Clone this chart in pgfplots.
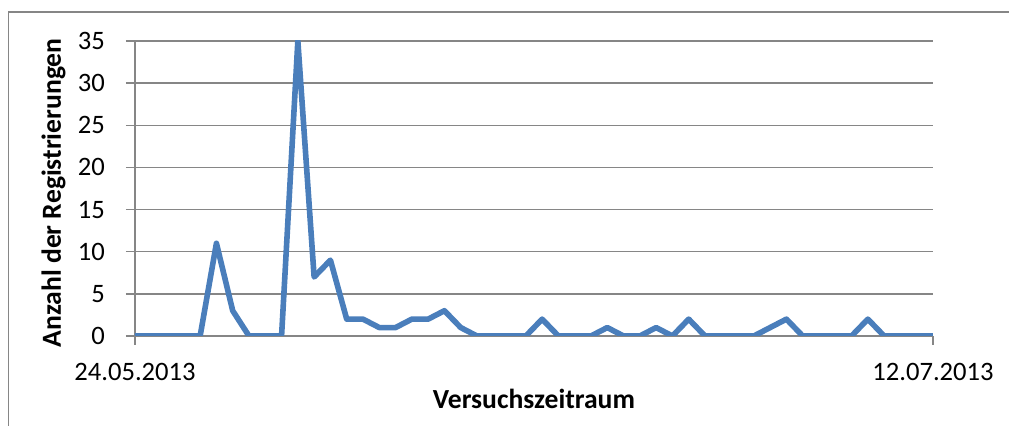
\documentclass[border=0pt]{standalone}
\usepackage{fontspec}
\setmainfont{Carlito}
\usepackage{pgfplots}
\pgfplotsset{compat=1.18}
\definecolor{xlblue}{HTML}{4A7EBB}
\definecolor{xlgray}{HTML}{868686}

% registrations per day, 24.05.2013 (day 0) to 12.07.2013 (day 49)
\pgfplotstableread{
day n
0 0
1 0
2 0
3 0
4 0
5 11
6 3
7 0
8 0
9 0
10 35
11 7
12 9
13 2
14 2
15 1
16 1
17 2
18 2
19 3
20 1
21 0
22 0
23 0
24 0
25 2
26 0
27 0
28 0
29 1
30 0
31 0
32 1
33 0
34 2
35 0
36 0
37 0
38 0
39 1
40 2
41 0
42 0
43 0
44 0
45 2
46 0
47 0
48 0
49 0
}\regdata

\begin{document}
\begin{tikzpicture}
\useasboundingbox (-67.5pt,-45pt) rectangle (437pt,168pt);
\draw[xlgray, line width=0.7pt] (-63.25pt,-80pt) rectangle (470pt,162pt);
\begin{axis}[
  at={(0pt,0pt)}, anchor=origin,
  scale only axis,
  width=399pt, height=147.5pt,
  xmin=0, xmax=49, ymin=0, ymax=35,
  axis x line*=bottom, axis y line*=left,
  axis line style={xlgray, line width=0.75pt, -},
  xtick={0,49}, xticklabels={24.05.2013,12.07.2013},
  ytick={0,5,...,35},
  tick align=outside,
  major tick length=4.5pt,
  tick style={xlgray, line width=0.75pt},
  ymajorgrids=true,
  grid style={xlgray, line width=0.75pt},
  tick label style={font=\fontsize{13.3}{15}\selectfont, black},
  xticklabel style={yshift=-5.5pt},
  yticklabel style={xshift=-7pt},
  /pgf/number format/assume math mode=true,
  xlabel={Versuchszeitraum},
  ylabel={Anzahl der Registrierungen},
  label style={font=\fontsize{13.8}{15}\selectfont\bfseries},
  xlabel style={at={(axis description cs:0.5,0)}, anchor=north, yshift=-23pt},
  ylabel style={at={(axis description cs:-0.102,0.485)}, anchor=center, rotate=0},
]
\addplot[xlblue, line width=2.8pt, line join=round, mark=none] table[x=day, y=n] {\regdata};
\end{axis}
\end{tikzpicture}
\end{document}
